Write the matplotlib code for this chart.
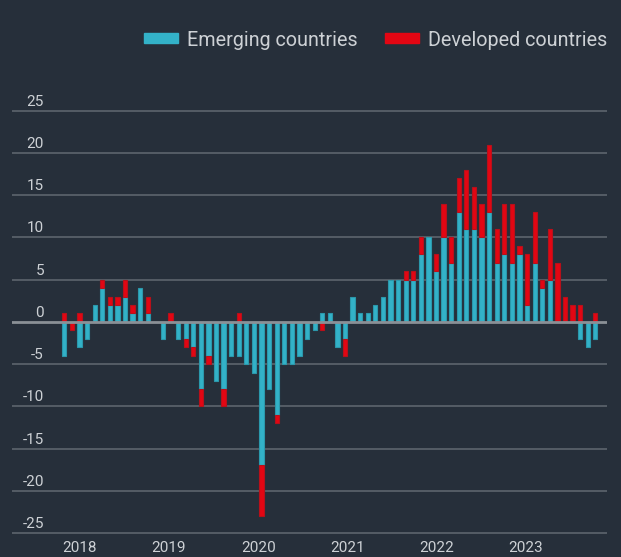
import numpy as np
import matplotlib.pyplot as plt
from matplotlib.patches import Patch

plt.rcParams['font.family'] = ['Roboto', 'DejaVu Sans']

# monthly bars, oldest first
emerging = [-4, 0, -3, -2, 2, 4, 2, 2, 3, 1, 4, 1,
            0, -2, 0, -2, -2, -3, -8, -4, -7, -8, -4, -4,
            -5, -6, -17, -8, -11, -5, -5, -4, -2, -1, 1, 1,
            -3, -2, 3, 1, 1, 2, 3, 5, 5, 5, 5, 8,
            10, 6, 10, 7, 13, 11, 11, 10, 13, 7, 8, 7,
            8, 2, 7, 4, 5, 0, 0, 0, -2, -3, -2]
developed = [1, -1, 1, 0, 0, 1, 1, 1, 2, 1, 0, 2,
             0, 0, 1, 0, -1, -1, -2, -1, 0, -2, 0, 1,
             0, 0, -6, 0, -1, 0, 0, 0, 0, 0, -1, 0,
             0, -2, 0, 0, 0, 0, 0, 0, 0, 1, 1, 2,
             0, 2, 4, 3, 4, 7, 5, 4, 8, 4, 6, 7,
             1, 6, 6, 1, 6, 7, 3, 2, 2, 0, 1]
years = ['2018', '2019', '2020', '2021', '2022', '2023']
y_ticks = [25, 20, 15, 10, 5, 0, -5, -10, -15, -20, -25]

bg = '#262f3a'
cyan = '#33b2c8'
red = '#e30613'
txt = '#cdd1d5'

em = np.array(emerging, dtype=float)
dev = np.array(developed, dtype=float)
x = np.arange(len(em))
# developed stacks on emerging when same sign, else starts at zero
dev_bottom = np.where(np.sign(dev) == np.sign(em), em, 0)

fig = plt.figure(figsize=(6.21, 5.57), dpi=100, facecolor=bg)
ax = fig.add_axes([11.5/621, 0.0355, (607.3-11.5)/621, 0.7733])
ax.set_facecolor(bg)

for v in y_ticks:
    if v == 0:
        continue
    ax.axhline(v, color='#5d656d', lw=1.2, zorder=1)
ax.axhline(0, color='#8a9096', lw=2.0, zorder=4)

ax.bar(x, em, width=0.56, color=cyan, edgecolor='#2b98ab', lw=0.8, zorder=2)
ax.bar(x, dev, width=0.56, bottom=dev_bottom, color=red,
       edgecolor='#b8101a', lw=0.8, zorder=2)

ax.set_xlim(-6.96, 71.58)
ax.set_ylim(-25.5, 25.5)

# y labels sit above their gridline
for v in y_ticks:
    ax.annotate(str(v), xy=(0.0545, v), xycoords=('axes fraction', 'data'),
                xytext=(0, 3.6), textcoords='offset points',
                ha='right', va='baseline', color=txt, fontsize=11)

ax.set_yticks([])
ax.set_xticks(np.linspace(2.03, 60.86, len(years)))
ax.set_xticklabels(years, color=txt, fontsize=11)
ax.tick_params(axis='x', length=0, pad=2.5)
for s in ax.spines.values():
    s.set_visible(False)

handles = [Patch(color=cyan, label='Emerging countries'),
           Patch(color=red, label='Developed countries')]
fig.legend(handles=handles, loc='center right', ncol=2, frameon=False,
           bbox_to_anchor=(607.3/621, 1 - 40/557), fontsize=14.2,
           handlelength=1.72, handleheight=0.4, handletextpad=0.48,
           columnspacing=1.37, borderpad=0, borderaxespad=0,
           labelcolor=txt)

fig.savefig('out.png', dpi=100, facecolor=bg)
